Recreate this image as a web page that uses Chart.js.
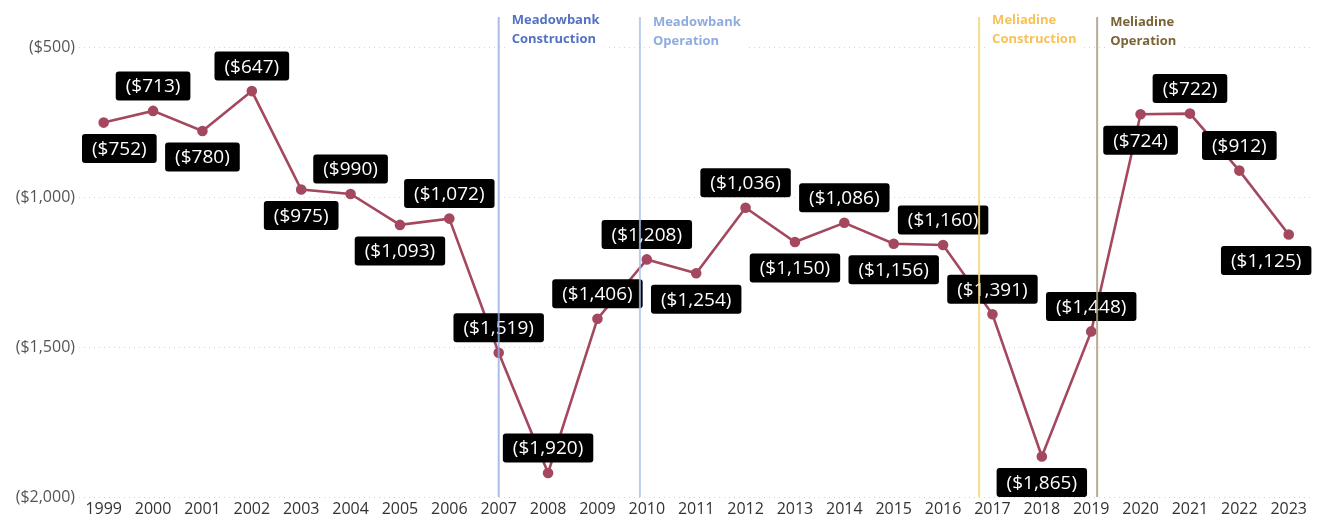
<!DOCTYPE html>
<html>
<head>
<meta charset="utf-8">
<script src="https://cdn.jsdelivr.net/npm/chart.js"></script>
<style>
  html, body { margin: 0; padding: 0; background: #fff; }
  #wrap { width: 1320px; height: 523px; }
</style>
</head>
<body>
<div id="wrap"><canvas id="chart" width="1320" height="523"></canvas></div>
<script>
// years and net value per year (shown as negatives in parentheses)
const years = ['1999', '2000', '2001', '2002', '2003', '2004', '2005', '2006', '2007', '2008', '2009', '2010',
  '2011', '2012', '2013', '2014', '2015', '2016', '2017', '2018', '2019', '2020', '2021', '2022', '2023'];
const values = [-752, -713, -780, -647, -975, -990, -1093, -1072, -1519, -1920, -1406, -1208,
  -1254, -1036, -1150, -1086, -1156, -1160, -1391, -1865, -1448, -724, -722, -912, -1125];
const yTicks = [-500, -1000, -1500, -2000];

// project milestones, positioned on the year axis
const eventNames = [['Meadowbank', 'Construction'], ['Meadowbank', 'Operation'], ['Meliadine', 'Construction'], ['Meliadine', 'Operation']];
const eventYears = [2007, 2009.86, 2016.73, 2019.12];

// label placement: 1 = below the point, -1 = above
const labelSide = [1, -1, 1, -1, 1, -1, 1, -1, -1, -1, -1, -1, 1, -1, 1, -1, 1, -1, -1, 1, -1, 1, -1, -1, 1];
const eventTextColors = ['#5372c2', '#8fabe0', '#f6c25c', '#7a6436'];
const eventLineColors = ['rgba(150,172,222,0.8)', 'rgba(170,192,235,0.8)', 'rgba(250,214,130,0.9)', 'rgba(170,156,128,0.85)'];

const FONT = "'Open Sans', 'Noto Sans', sans-serif";

function money(v) {
  return '($' + Math.abs(v).toLocaleString('en-US') + ')';
}

const labelsPlugin = {
  id: 'valueLabels',
  afterDatasetsDraw(chart) {
    const ctx = chart.ctx;
    const area = chart.chartArea;
    const meta = chart.getDatasetMeta(0);
    ctx.save();
    ctx.font = '19px ' + FONT;
    ctx.textAlign = 'center';
    ctx.textBaseline = 'middle';
    meta.data.forEach((pt, i) => {
      const text = money(values[i]);
      const w = ctx.measureText(text).width + 20;
      const h = 29;
      const cy = pt.y + (labelSide[i] > 0 ? 26 : -25);
      let left = pt.x - w / 2;
      if (left < area.left + 3) left = area.left + 3;
      if (left + w > area.right - 2) left = area.right - 2 - w;
      ctx.fillStyle = '#000';
      ctx.beginPath();
      ctx.roundRect(left, cy - h / 2, w, h, 3);
      ctx.fill();
      ctx.fillStyle = '#fff';
      ctx.fillText(text, left + w / 2, cy + 1);
    });

    // milestone lines and captions
    const xs = chart.scales.x;
    eventYears.forEach((yr, i) => {
      const x = xs.getPixelForValue(yr - 1999);
      ctx.strokeStyle = eventLineColors[i];
      ctx.lineWidth = 2;
      ctx.beginPath();
      ctx.moveTo(x, 17);
      ctx.lineTo(x, area.bottom);
      ctx.stroke();
      ctx.font = 'bold 13px ' + FONT;
      ctx.textAlign = 'left';
      const tx = x + 13;
      const w = Math.max(...eventNames[i].map(s => ctx.measureText(s).width));
      const top = (i % 2 === 0) ? 20 : 22;
      ctx.fillStyle = '#fff';
      ctx.fillRect(tx - 3, top - 10, w + 8, 40);
      ctx.fillStyle = eventTextColors[i];
      ctx.fillText(eventNames[i][0], tx, top);
      ctx.fillText(eventNames[i][1], tx, top + 19);
    });
    ctx.restore();
  }
};

new Chart(document.getElementById('chart'), {
  type: 'line',
  data: {
    labels: years,
    datasets: [{
      data: values,
      borderColor: '#a4485f',
      backgroundColor: '#a4485f',
      borderWidth: 2.6,
      pointRadius: 4,
      pointHoverRadius: 4,
      tension: 0
    }]
  },
  options: {
    responsive: false,
    animation: false,
    layout: { padding: { top: 47, right: 5, bottom: 0, left: 0 } },
    plugins: { legend: { display: false }, tooltip: { enabled: false } },
    scales: {
      x: {
        offset: true,
        grid: { display: false, drawTicks: false },
        border: { display: false },
        ticks: { color: '#333', font: { family: FONT, size: 16 }, padding: 3, maxRotation: 0, autoSkip: false },
        afterFit(scale) { scale.height = 26; }
      },
      y: {
        min: -2000,
        max: -500,
        afterBuildTicks(scale) { scale.ticks = yTicks.map(v => ({ value: v })); },
        grid: { color: '#d4d4d4', lineWidth: 1, drawTicks: false },
        border: { display: false, dash: [1, 4] },
        ticks: {
          color: '#555',
          font: { family: FONT, size: 16 },
          padding: 4,
          callback: v => money(v)
        },
        afterFit(scale) { scale.width = 79; }
      }
    }
  },
  plugins: [labelsPlugin]
});
</script>
</body>
</html>
